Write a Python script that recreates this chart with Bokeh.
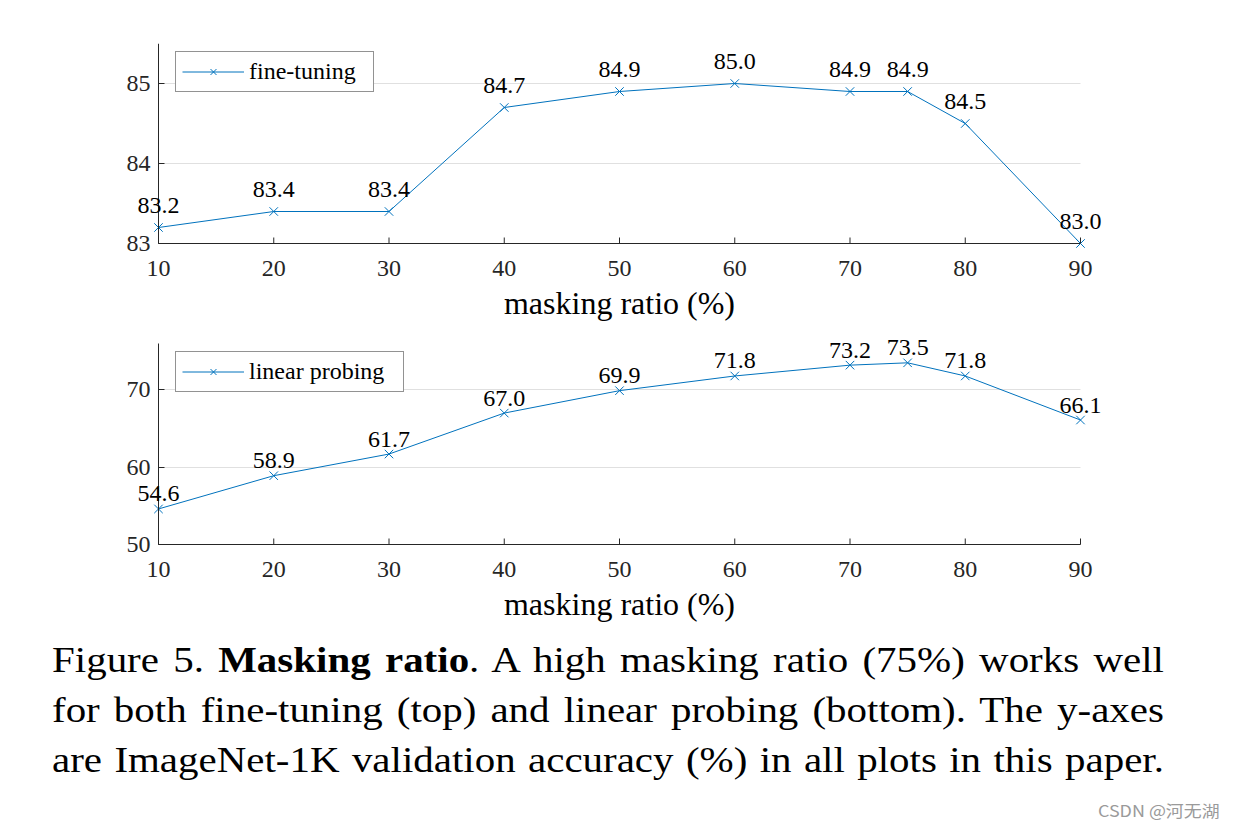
from bokeh.plotting import figure
from bokeh.models import ColumnDataSource, LabelSet, Range1d, FixedTicker, Div, LinearAxis
from bokeh.layouts import column
from bokeh.embed import file_html
from bokeh.resources import INLINE

# ---- data ----
ratios = [10, 20, 30, 40, 50, 60, 70, 75, 80, 90]
fine_tuning = [83.2, 83.4, 83.4, 84.7, 84.9, 85.0, 84.9, 84.9, 84.5, 83.0]
linear_probing = [54.6, 58.9, 61.7, 67.0, 69.9, 71.8, 73.2, 73.5, 71.8, 66.1]
x_ticks = [10, 20, 30, 40, 50, 60, 70, 80, 90]
ft_ticks = [83, 84, 85]
lp_ticks = [50, 60, 70]
x_label = "masking ratio (%)"
series_names = ["fine-tuning", "linear probing"]
caption_lines = [
    "Figure 5. <b>Masking ratio</b>. A high masking ratio (75%) works well",
    "for both fine-tuning (top) and linear probing (bottom). The y-axes",
    "are ImageNet-1K validation accuracy (%) in all plots in this paper.",
]
watermark = "CSDN @河无湖"

FONT = "Liberation Serif"
BLUE = "#0072BD"
AX = "#262626"

X0, X1 = 10, 90          # axis extent
AXIS_W = 922             # pixel length of the x axis
PAD = 40                 # extra frame room (px) left/right so edge labels are not clipped
BPAD = 14                # extra frame room (px) below the x axis
LEFT = 158               # page x of the y axis
TICK = 6                 # inward tick length (px)


def make_plot(values, name, y_lo, y_hi, yticks, axis_h, top_pad, top, bottom, lab_off, leg_y, leg_lw):
    upx = (X1 - X0) / AXIS_W
    upy = (y_hi - y_lo) / axis_h
    xr = Range1d(X0 - PAD * upx, X1 + PAD * upx)
    yr = Range1d(y_lo - BPAD * upy, y_hi + top_pad * upy)
    fw = AXIS_W + 2 * PAD
    p = figure(width=1220, height=top + axis_h + top_pad + BPAD + bottom,
               x_range=xr, y_range=yr, x_axis_location=None,
               output_backend="svg", toolbar_location=None,
               min_border_left=LEFT - PAD, min_border_right=1220 - (LEFT - PAD) - fw,
               min_border_top=top, min_border_bottom=bottom)
    p.outline_line_color = None
    p.background_fill_color = "white"
    p.border_fill_color = "white"
    src = ColumnDataSource(dict(x=ratios, y=values, t=["%.1f" % v for v in values]))
    # grid lines (only across the axis extent)
    try:
        p.ygrid.cross_bounds = (X0, X1)
        p.ygrid.ticker = FixedTicker(ticks=yticks)
        p.ygrid.grid_line_color = "#e0e0e0"
        p.ygrid.grid_line_width = 1
    except Exception:
        p.ygrid.grid_line_color = None
        gsrc = ColumnDataSource(dict(x0=[X0] * len(yticks), x1=[X1] * len(yticks), y=yticks))
        p.segment("x0", "y", "x1", "y", source=gsrc, line_color="#e0e0e0", line_width=1)
    p.xgrid.grid_line_color = None

    # x axis line at y_lo (no labels) and its inward tick marks
    xline = LinearAxis(fixed_location=y_lo, bounds=(X0, X1), ticker=FixedTicker(ticks=[]),
                       axis_line_color=AX, axis_line_width=1,
                       major_tick_line_color=None, minor_tick_line_color=None,
                       major_tick_in=0, major_tick_out=0, major_label_standoff=0)
    p.add_layout(xline, "below")
    tsrc = ColumnDataSource(dict(x=x_ticks, y0=[y_lo] * len(x_ticks),
                                 y1=[y_lo + TICK * upy] * len(x_ticks)))
    p.segment("x", "y0", "x", "y1", source=tsrc, line_color=AX, line_width=1)

    p.line("x", "y", source=src, color=BLUE, line_width=1, legend_label=name)
    p.scatter("x", "y", source=src, marker="x", size=12, line_color=BLUE,
              line_width=1, legend_label=name)
    p.add_layout(LabelSet(x="x", y="y", text="t", source=src, y_offset=lab_off,
                          text_align="center", text_baseline="middle",
                          text_font=FONT, text_font_size="24px", text_color="black"))

    # x axis tick labels + title, in the panel below
    xlab = LinearAxis(bounds=(X0, X1), ticker=FixedTicker(ticks=x_ticks),
                      axis_line_color=None, major_tick_line_color=None,
                      minor_tick_line_color=None, major_tick_out=0, major_tick_in=0,
                      major_label_standoff=17 - BPAD,
                      major_label_text_font=FONT, major_label_text_font_size="24px",
                      major_label_text_color=AX,
                      axis_label=x_label, axis_label_text_font=FONT,
                      axis_label_text_font_size="32px", axis_label_text_font_style="normal",
                      axis_label_text_color="black", axis_label_standoff=6)
    p.add_layout(xlab, "below")

    yax = p.yaxis[0]
    yax.ticker = FixedTicker(ticks=yticks)
    yax.bounds = (y_lo, y_hi)
    yax.fixed_location = X0
    yax.axis_line_color = AX
    yax.axis_line_width = 1
    yax.major_tick_line_color = AX
    yax.major_tick_in = TICK
    yax.major_tick_out = 0
    yax.minor_tick_line_color = None
    yax.major_label_text_font = FONT
    yax.major_label_text_font_size = "24px"
    yax.major_label_text_color = AX
    yax.major_label_standoff = 8
    # legend
    lg = p.legend[0]
    lg.location = (17 + PAD, leg_y + BPAD)
    lg.margin = 0
    lg.padding = 6
    lg.spacing = 0
    lg.glyph_width = 62
    lg.glyph_height = 21
    lg.label_height = 21
    lg.label_width = leg_lw
    lg.label_standoff = 5
    lg.label_text_font = FONT
    lg.label_text_font_size = "24px"
    lg.label_text_color = "black"
    lg.border_line_color = AX
    lg.border_line_width = 1
    lg.background_fill_color = "white"
    lg.background_fill_alpha = 1
    return p


p1 = make_plot(fine_tuning, series_names[0], 83, 85.5, ft_ticks, 200, 0, 43, 92 - BPAD, 22, 151, 118)
p2 = make_plot(linear_probing, series_names[1], 50, 76, lp_ticks, 201, 8, 0, 92 - BPAD, 15, 152, 148)

SX = 1.17
inner_w = 1112 / SX
line_divs = "".join(
    '<div style="text-align:justify;text-align-last:justify;white-space:nowrap;">%s</div>' % s
    for s in caption_lines)
html = (
    '<div style="position:relative;width:1220px;height:184px;background:white;">'
    '<div style="position:absolute;left:47px;top:-5px;width:%.1fpx;' % inner_w +
    'transform:scaleX(%.3f);transform-origin:0 0;' % SX +
    'font-family:\'Liberation Serif\';font-size:35px;line-height:50px;color:black;">'
    + line_divs +
    '</div>'
    '<div style="position:absolute;right:5px;top:158px;font-family:\'Noto Sans CJK SC\',sans-serif;'
    'font-size:16px;color:#9a9a9a;white-space:nowrap;transform:scaleX(1.12);transform-origin:100% 0;">'
    + watermark + '</div>'
    '</div>'
)
cap = Div(text=html, width=1220, height=184)

layout = column(p1, p2, cap, spacing=0)
open("out.html", "w").write(file_html(layout, INLINE))
